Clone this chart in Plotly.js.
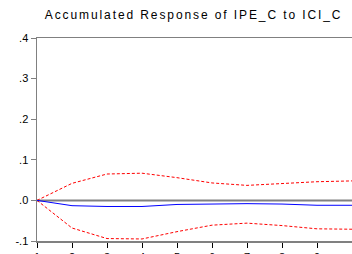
<!DOCTYPE html>
<html><head><meta charset="utf-8">
<script src="https://cdn.plot.ly/plotly-3.0.1.min.js"></script>
<style>body{margin:0;background:#fff}.gtitle{letter-spacing:1.9px}</style>
</head><body><div id="c" style="width:352px;height:254px"></div>
<script>
var periods = [1,2,3,4,5,6,7,8,9,10];
var response = [0,-0.013,-0.015,-0.015,-0.010,-0.009,-0.008,-0.009,-0.012,-0.012];
var upperBand = [0,0.042,0.065,0.067,0.056,0.043,0.037,0.041,0.046,0.048];
var lowerBand = [0,-0.068,-0.094,-0.095,-0.077,-0.061,-0.056,-0.062,-0.070,-0.071];
var yTickVals = [-0.1,0,0.1,0.2,0.3,0.4];
var yTickText = ['-.1','.0','.1','.2','.3','.4'];
var xTickVals = periods;
var xTickText = ['1','2','3','4','5','6','7','8','9','10'];

var traces = [
 {x:[1,10],y:[0,0],mode:'lines',line:{color:'#808080',width:2},hoverinfo:'skip'},
 {x:periods,y:upperBand,mode:'lines',line:{color:'#ff0000',width:1,dash:'3px,2px'}},
 {x:periods,y:lowerBand,mode:'lines',line:{color:'#ff0000',width:1,dash:'3px,2px'}},
 {x:periods,y:response,mode:'lines',line:{color:'#0000ff',width:1}}
];
var layout = {
 width:352,height:254,showlegend:false,
 margin:{l:37,r:0,t:38,b:13},
 paper_bgcolor:'#fff',plot_bgcolor:'#fff',
 title:{text:'Accumulated Response of IPE_C to ICI_C',x:0.55,xanchor:'center',y:0.94,yanchor:'middle',
   font:{family:'Arial, Liberation Sans, sans-serif',size:12,color:'#000'}},
 xaxis:{range:[1,10],tickvals:xTickVals,ticktext:xTickText,showgrid:false,zeroline:false,
   showline:true,mirror:true,linecolor:'#808080',linewidth:1.5,ticks:'outside',ticklen:5,tickcolor:'#000',
   tickfont:{family:'Arial, Liberation Sans, sans-serif',size:11,color:'#000'}},
 yaxis:{range:[-0.1,0.4],tickvals:yTickVals,ticktext:yTickText,showgrid:false,zeroline:false,
   showline:true,linecolor:'#808080',linewidth:1.5,ticks:'outside',ticklen:5,tickcolor:'#808080',
   tickfont:{family:'Arial, Liberation Sans, sans-serif',size:11,color:'#000'}}
};
Plotly.newPlot('c',traces,layout,{staticPlot:true,displayModeBar:false});
</script></body></html>
